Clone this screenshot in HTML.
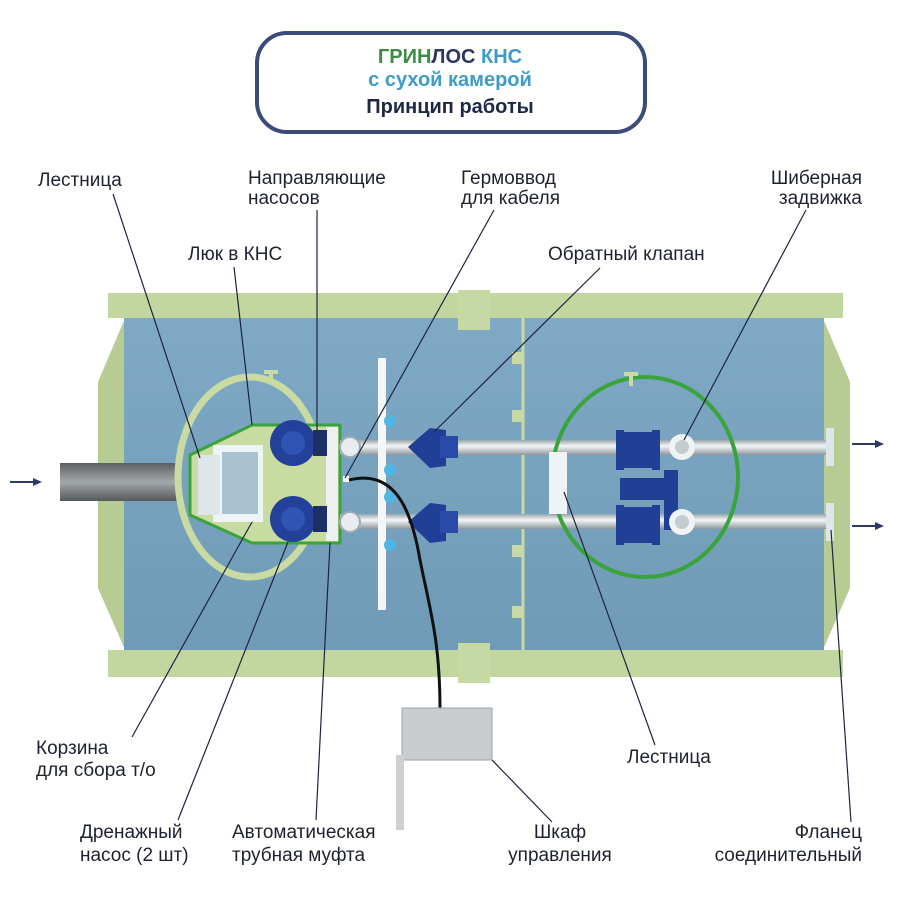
<!DOCTYPE html>
<html><head><meta charset="utf-8"><style>
html,body{margin:0;padding:0;background:#fff;}
svg{display:block;}
text{font-family:"Liberation Sans Narrow","Liberation Sans","Noto Sans CJK SC",sans-serif;}
</style></head><body>
<svg width="899" height="900" viewBox="0 0 899 900" xmlns="http://www.w3.org/2000/svg">
<defs>
<linearGradient id="bl" x1="0" y1="0" x2="0" y2="1">
<stop offset="0" stop-color="#7fa9c4"/><stop offset="1" stop-color="#6f9bb6"/></linearGradient>
<linearGradient id="pipe" x1="0" y1="0" x2="0" y2="1">
<stop offset="0" stop-color="#9aa4aa"/><stop offset="0.4" stop-color="#f4f6f7"/><stop offset="1" stop-color="#8d979d"/></linearGradient>
<linearGradient id="gr" x1="0" y1="0" x2="0" y2="1">
<stop offset="0" stop-color="#5b5f62"/><stop offset="0.5" stop-color="#a3a8ab"/><stop offset="1" stop-color="#55595c"/></linearGradient>
</defs>
<!-- title -->
<rect x="257" y="33" width="388" height="99" rx="30" fill="#fff" stroke="#3b4b7c" stroke-width="4"/>
<text x="450" y="63" text-anchor="middle" font-size="20" font-weight="bold"><tspan fill="#3b8d42">ГРИН</tspan><tspan fill="#2b3663">ЛОС </tspan><tspan fill="#3e9cc6">КНС</tspan></text>
<text x="450" y="86" text-anchor="middle" font-size="20" font-weight="600" fill="#3e9cc6">с сухой камерой</text>
<text x="450" y="113" text-anchor="middle" font-size="20" font-weight="600" fill="#1f2746">Принцип работы</text>

<!-- tank -->
<polygon points="126,316 98,382 98,588 126,652" fill="#b6cc92"/>
<polygon points="822,316 850,382 850,588 822,652" fill="#b6cc92"/>
<rect x="124" y="316" width="700" height="336" fill="url(#bl)"/>
<rect x="108" y="293" width="735" height="25" fill="#c2d6a0"/>
<rect x="108" y="650" width="735" height="27" fill="#c2d6a0"/>
<rect x="458" y="290" width="32" height="40" fill="#c6d9a4"/>
<rect x="458" y="643" width="32" height="40" fill="#c6d9a4"/>
<line x1="523" y1="318" x2="523" y2="650" stroke="#c8d9a6" stroke-width="3"/>
<g fill="#c8d9a6"><rect x="512" y="352" width="10" height="12"/><rect x="512" y="410" width="10" height="12"/><rect x="512" y="545" width="10" height="12"/><rect x="512" y="606" width="10" height="12"/></g>
<!-- inlet -->
<rect x="60" y="463" width="118" height="38" fill="url(#gr)"/>
<!-- left hatch -->
<ellipse cx="250" cy="477" rx="72" ry="100" fill="none" stroke="#c9dba2" stroke-width="7"/>
<rect x="264" y="370" width="14" height="4" fill="#c9dba2"/><rect x="269" y="370" width="4" height="14" fill="#c9dba2"/>
<polygon points="190,455 252,425 340,425 340,543 252,543 190,515" fill="#c8dba0" stroke="#3aa33c" stroke-width="3"/>
<rect x="213" y="445" width="50" height="77" fill="#eef3f6"/>
<rect x="222" y="452" width="36" height="62" fill="#a9c2d2"/>
<rect x="198" y="455" width="22" height="60" fill="#dfe6ea"/>
<rect x="326" y="427" width="12" height="114" fill="#eef0f0"/>
<circle cx="293" cy="443" r="23" fill="#23419a"/><circle cx="293" cy="443" r="12" fill="#2f54b3"/>
<circle cx="293" cy="519" r="23" fill="#23419a"/><circle cx="293" cy="519" r="12" fill="#2f54b3"/>
<rect x="313" y="430" width="14" height="26" fill="#1e2f66"/><rect x="313" y="506" width="14" height="26" fill="#1e2f66"/>
<!-- pipes -->
<rect x="340" y="440" width="490" height="15" fill="url(#pipe)"/>
<rect x="340" y="514" width="490" height="15" fill="url(#pipe)"/>
<circle cx="350" cy="447" r="10" fill="#e6ecef" stroke="#9eabb2" stroke-width="2"/>
<circle cx="350" cy="522" r="10" fill="#e6ecef" stroke="#9eabb2" stroke-width="2"/>
<rect x="378" y="358" width="8" height="252" fill="#f4f6f7"/>
<g fill="#4fb6e3"><circle cx="390" cy="421" r="6"/><circle cx="390" cy="470" r="6"/><circle cx="390" cy="497" r="6"/><circle cx="390" cy="545" r="6"/></g>
<polygon points="408,447 430,428 446,430 446,466 430,468" fill="#203f96"/>
<rect x="440" y="436" width="18" height="22" fill="#2a4aa8"/>
<polygon points="408,522 430,503 446,505 446,541 430,543" fill="#203f96"/>
<rect x="440" y="511" width="18" height="22" fill="#2a4aa8"/>
<!-- right hatch -->
<ellipse cx="645" cy="477" rx="93" ry="100" fill="none" stroke="#3aa33c" stroke-width="4"/>
<rect x="624" y="372" width="14" height="4" fill="#c9dba2"/><rect x="629" y="372" width="4" height="14" fill="#c9dba2"/>
<rect x="549" y="452" width="18" height="62" fill="#eef3f6"/>
<g fill="#213f95">
<rect x="616" y="430" width="8" height="40"/><rect x="624" y="432" width="28" height="36"/><rect x="652" y="430" width="8" height="40"/>
<rect x="616" y="505" width="8" height="40"/><rect x="624" y="507" width="28" height="36"/><rect x="652" y="505" width="8" height="40"/>
<rect x="620" y="478" width="52" height="22"/><rect x="664" y="470" width="14" height="60"/>
</g>
<circle cx="682" cy="447" r="13" fill="#f0f3f5"/><circle cx="682" cy="447" r="7" fill="#c4ccd0"/>
<circle cx="682" cy="522" r="13" fill="#f0f3f5"/><circle cx="682" cy="522" r="7" fill="#c4ccd0"/>
<rect x="826" y="428" width="8" height="38" fill="#dfe6ea"/>
<rect x="826" y="503" width="8" height="38" fill="#dfe6ea"/>
<!-- cable -->
<rect x="343" y="476" width="6" height="6" fill="#fff"/>
<path d="M349,480 C390,470 410,500 420,560 C430,610 440,640 440,710" fill="none" stroke="#111" stroke-width="3"/>
<!-- control box -->
<rect x="402" y="708" width="90" height="52" fill="#c9cdd0" stroke="#9ea4a8"/>
<rect x="396" y="755" width="8" height="75" fill="#cdd1d4"/>
<!-- arrows -->
<g stroke="#2b3a66" stroke-width="2" fill="#2b3a66">
<line x1="10" y1="482" x2="34" y2="482"/><polygon points="42,482 33,478 33,486" stroke="none"/>
<line x1="852" y1="444" x2="876" y2="444"/><polygon points="884,444 875,440 875,448" stroke="none"/>
<line x1="852" y1="526" x2="876" y2="526"/><polygon points="884,526 875,522 875,530" stroke="none"/>
</g>
<!-- leaders -->
<g stroke="#1d2440" stroke-width="1.2">
<line x1="113" y1="194" x2="200" y2="458"/>
<line x1="234" y1="267" x2="252" y2="425"/>
<line x1="317" y1="210" x2="317" y2="430"/>
<line x1="494" y1="210" x2="345" y2="478"/>
<line x1="600" y1="268" x2="434" y2="432"/>
<line x1="806" y1="210" x2="684" y2="440"/>
<line x1="132" y1="737" x2="252" y2="522"/>
<line x1="178" y1="820" x2="288" y2="542"/>
<line x1="316" y1="820" x2="330" y2="543"/>
<line x1="552" y1="822" x2="492" y2="760"/>
<line x1="655" y1="745" x2="564" y2="492"/>
<line x1="851" y1="822" x2="831" y2="530"/>
</g>
<!-- labels -->
<g font-size="19" fill="#1e2230">
<text x="38" y="186">Лестница</text>
<text x="248" y="184">Направляющие</text>
<text x="248" y="204">насосов</text>
<text x="188" y="260">Люк в КНС</text>
<text x="461" y="184">Гермоввод</text>
<text x="461" y="204">для кабеля</text>
<text x="862" y="184" text-anchor="end">Шиберная</text>
<text x="862" y="204" text-anchor="end">задвижка</text>
<text x="548" y="260">Обратный клапан</text>
<text x="36" y="754">Корзина</text>
<text x="36" y="776">для сбора т/о</text>
<text x="80" y="838">Дренажный</text>
<text x="80" y="861">насос (2 шт)</text>
<text x="232" y="838">Автоматическая</text>
<text x="232" y="861">трубная муфта</text>
<text x="560" y="838" text-anchor="middle">Шкаф</text>
<text x="560" y="861" text-anchor="middle">управления</text>
<text x="627" y="763">Лестница</text>
<text x="862" y="838" text-anchor="end">Фланец</text>
<text x="862" y="861" text-anchor="end">соединительный</text>
</g>
</svg>
</body></html>
